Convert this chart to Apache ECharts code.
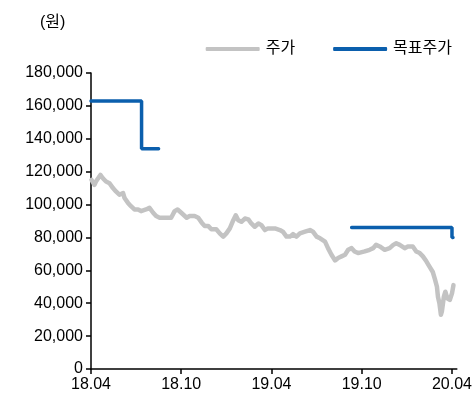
<!DOCTYPE html>
<html>
<head>
<meta charset="utf-8">
<script src="https://cdn.jsdelivr.net/npm/echarts@6/dist/echarts.min.js"></script>
<style>
  html, body { margin: 0; padding: 0; background: #fff; }
  #chart { width: 475px; height: 405px; }
</style>
</head>
<body>
<div id="chart"></div>
<script>
// 주가 (daily close)
var priceDates = [
  '18.04.02', '18.04.08', '18.04.11', '18.04.20', '18.04.25', '18.05.01', '18.05.08', '18.05.15',
  '18.05.21', '18.05.28', '18.06.05', '18.06.08', '18.06.15', '18.06.21', '18.06.28', '18.07.05',
  '18.07.11', '18.07.21', '18.07.28', '18.08.05', '18.08.11', '18.08.18', '18.08.28', '18.09.05',
  '18.09.11', '18.09.18', '18.09.24', '18.10.01', '18.10.05', '18.10.12', '18.10.18', '18.10.28',
  '18.11.05', '18.11.12', '18.11.18', '18.11.25', '18.12.01', '18.12.11', '18.12.18', '18.12.25',
  '19.01.01', '19.01.08', '19.01.15', '19.01.20', '19.01.25', '19.02.01', '19.02.08', '19.02.15',
  '19.02.21', '19.02.28', '19.03.05', '19.03.11', '19.03.18', '19.03.24', '19.03.28', '19.04.08',
  '19.04.18', '19.04.24', '19.05.01', '19.05.08', '19.05.14', '19.05.21', '19.05.28', '19.06.08',
  '19.06.18', '19.06.24', '19.07.01', '19.07.08', '19.07.18', '19.07.24', '19.07.31', '19.08.08',
  '19.08.14', '19.08.21', '19.08.28', '19.09.04', '19.09.11', '19.09.17', '19.09.24', '19.09.27',
  '19.10.07', '19.10.17', '19.10.24', '19.10.30', '19.11.07', '19.11.17', '19.11.27', '19.12.04',
  '19.12.10', '19.12.17', '19.12.27', '20.01.03', '20.01.13', '20.01.20', '20.01.27', '20.02.03',
  '20.02.10', '20.02.17', '20.02.23', '20.02.27', '20.03.01', '20.03.03', '20.03.06', '20.03.09',
  '20.03.11', '20.03.15', '20.03.18', '20.03.22', '20.03.27', '20.04.01', '20.04.04'
]
var priceValues = [
  115000, 112000, 114000, 118000, 116000, 114000, 113000, 110000,
  108000, 106000, 107000, 104000, 101000, 99000, 97000, 97000,
  96000, 97000, 98000, 95000, 93000, 92000, 92000, 92000,
  92000, 96000, 97000, 95000, 94000, 92000, 93000, 93000,
  92000, 89000, 87000, 87000, 85000, 85000, 82500, 80500,
  82500, 85500, 90500, 93500, 90500, 89500, 91500, 91000,
  88500, 86500, 88500, 87500, 84500, 85500, 84500, 85500,
  84500, 83500, 80500, 80500, 82000, 80500, 82500, 83500,
  84500, 83500, 80500, 79500, 77500, 73500, 69500, 66000,
  67500, 68500, 69500, 72500, 73500, 71500, 70500, 70500,
  71500, 72500, 73500, 75500, 74500, 72500, 73500, 75500,
  76500, 75500, 73500, 74500, 74500, 71500, 70500, 68500,
  65500, 62000, 59000, 55000, 50000, 44000, 40000, 33000,
  35000, 44000, 47000, 43000, 42000, 46000, 51000
]

// 목표주가 (step line, '-' breaks the line)
var targetDates = ['18.04.01', '18.07.12', '18.08.16', '18.08.16', '19.09.11', '20.04.01', '20.04.03']
var targetValues = [163000, 134000, 134000, '-', 86000, 80000, 80000]

var xTickLabels = ['18.04', '18.10', '19.04', '19.10', '20.04']
var yMax = 180000

// months since 18.04
function toMonth(s) {
  var p = s.split('.')
  return (Number(p[0]) - 18) * 12 + (Number(p[1]) - 4) + (Number(p[2]) - 1) / 30.4
}

var font = "'Liberation Sans', 'Noto Sans CJK KR', sans-serif"
var xTicks = xTickLabels.map(function(l) { return toMonth(l + '.01') })

var chart = echarts.init(document.getElementById('chart'))
chart.setOption({
  backgroundColor: '#fff',
  animation: false,
  title: {
    text: '(원)',
    left: 35,
    top: 10,
    textStyle: { fontFamily: font, fontSize: 16, fontWeight: 'normal', color: '#000' }
  },
  legend: {
    top: 36,
    right: 18,
    itemWidth: 54,
    itemHeight: 4,
    itemGap: 38,
    icon: 'roundRect',
    textStyle: { fontFamily: font, fontSize: 16, color: '#000', padding: [0, 0, 0, 1] },
    data: ['주가', '목표주가']
  },
  grid: { left: 91, right: 18, top: 73, bottom: 36, containLabel: false },
  xAxis: {
    type: 'value',
    min: 0,
    max: 24.32,
    axisLine: { lineStyle: { color: '#000', width: 1.5 } },
    axisTick: { show: true, customValues: xTicks, length: 5, lineStyle: { color: '#000', width: 1.5 } },
    axisLabel: {
      customValues: xTicks,
      margin: 8,
      fontFamily: font,
      fontSize: 16,
      color: '#000',
      formatter: function(v) {
        var i = xTicks.findIndex(function(t) { return Math.abs(t - v) < 0.01 })
        return i >= 0 ? xTickLabels[i] : ''
      }
    },
    splitLine: { show: false }
  },
  yAxis: {
    type: 'value',
    min: 0,
    max: yMax,
    interval: 20000,
    axisLine: { show: true, lineStyle: { color: '#000', width: 1.5 } },
    axisTick: { show: true, length: 5, lineStyle: { color: '#000', width: 1.5 } },
    axisLabel: {
      margin: 8,
      fontFamily: font,
      fontSize: 16,
      color: '#000',
      formatter: function(v) { return v.toLocaleString('en-US') }
    },
    splitLine: { show: false }
  },
  series: [
    {
      name: '주가',
      type: 'line',
      showSymbol: false,
      color: '#c3c3c3',
      lineStyle: { color: '#c3c3c3', width: 4.5, join: 'round', cap: 'round' },
      data: priceDates.map(function(d, i) { return [toMonth(d), priceValues[i]] })
    },
    {
      name: '목표주가',
      type: 'line',
      step: 'end',
      showSymbol: false,
      connectNulls: false,
      color: '#0b5fad',
      lineStyle: { color: '#0b5fad', width: 3.5, cap: 'round' },
      data: targetDates.map(function(d, i) { return [toMonth(d), targetValues[i]] })
    }
  ]
})
</script>
</body>
</html>
